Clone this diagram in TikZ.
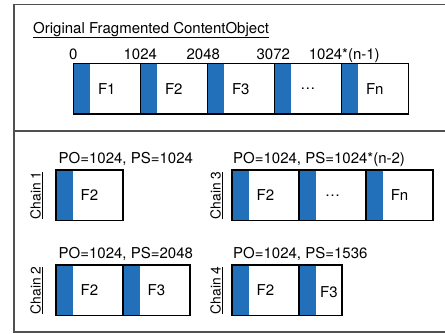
\documentclass[tikz,border=0pt]{standalone}
\usepackage{fontspec}
\setmainfont{TeX Gyre Heros}
\usepackage{xcolor}
\usetikzlibrary{positioning}
\definecolor{hdrblue}{RGB}{35,112,186}
\definecolor{framegray}{RGB}{80,80,80}

\tikzset{
  hdr/.style={fill=hdrblue, draw=hdrblue!60!black, line width=0.5pt, minimum width=17pt, minimum height=50.6pt, inner sep=0pt, outer sep=0pt},
  cell/.style={fill=white, minimum width=#1, minimum height=50.6pt, inner sep=0pt, outer sep=0pt},
  cell/.default=50pt,
  outline/.style={draw=black, line width=1.4pt},
  frame/.style={draw=framegray, line width=1.2pt},
  txt/.style={inner sep=1pt},
  chainlbl/.style={inner sep=1pt, rotate=90, anchor=south, font=\fontsize{13.8}{16}\selectfont}
}

\begin{document}
\begin{tikzpicture}[x=1pt, y=-1pt, font=\fontsize{15}{18}\selectfont]
\useasboundingbox (0,0) rectangle (445,333);
% Frame
\draw[frame] (14,4.5) rectangle (452,332);
\draw[frame] (14,131) -- (452,131);

% Original object
\node[txt, anchor=base west] (title) at (32,33) {\underline{Original Fragmented ContentObject}};
\foreach \i/\t in {1/F1,2/F2,3/F3,4/\dots,5/Fn} {
  \node[hdr] (oh\i) at ({81.8+67*(\i-1)}, 88.75) {};
  \node[cell, right=0pt of oh\i, label={[txt, xshift=-8.5pt]center:\t}] (oc\i) {};
  \draw[outline] (oh\i.north west) -- (oh\i.south west);
}
\draw[outline] (oh1.north west) rectangle (oc5.south east);
\foreach \i/\t/\s in {1/0/0,2/1024/0,3/2048/-4,4/3072/-1,5/1024*(n-1)/3}
  \node[txt, anchor=base] (on\i) at ([xshift=\s pt, yshift=3.5pt]oh\i.north west) {\t};

% Chain 1
\node[hdr] (ah1) at (64.5,195.35) {};
\node[cell, right=0pt of ah1, label={[txt, xshift=-8.5pt]center:F2}] (ac1) {};
\draw[outline] (ah1.north west) rectangle (ac1.south east);
\node[txt, anchor=base west] (apo) at ([xshift=1.5pt, yshift=7pt]ah1.north west) {PO=1024, PS=1024};
\node[chainlbl] (aname) at ([xshift=-12pt]ah1.west) {\underline{Chain 1}};

% Chain 2
\foreach \i/\t in {1/F2,2/F3} {
  \node[hdr] (bh\i) at ({64.5+67*(\i-1)}, 290.35) {};
  \node[cell, right=0pt of bh\i, label={[txt, xshift=-8.5pt]center:\t}] (bc\i) {};
  \draw[outline] (bh\i.north west) -- (bh\i.south west);
}
\draw[outline] (bh1.north west) rectangle (bc2.south east);
\node[txt, anchor=base west] (bpo) at ([xshift=1.5pt, yshift=7pt]bh1.north west) {PO=1024, PS=2048};
\node[chainlbl] (bname) at ([xshift=-12pt]bh1.west) {\underline{Chain 2}};

% Chain 3
\foreach \i/\t in {1/F2,2/\dots,3/Fn} {
  \node[hdr] (ch\i) at ({240.5+67*(\i-1)}, 195.35) {};
  \node[cell, right=0pt of ch\i, label={[txt, xshift=-8.5pt]center:\t}] (cc\i) {};
  \draw[outline] (ch\i.north west) -- (ch\i.south west);
}
\draw[outline] (ch1.north west) rectangle (cc3.south east);
\node[txt, anchor=base west] (cpo) at ([yshift=7pt]ch1.north west) {PO=1024, PS=1024*(n-2)};
\node[chainlbl] (cname) at ([xshift=-8pt]ch1.west) {\underline{Chain 3}};

% Chain 4
\node[hdr] (dh1) at (240.5,290.35) {};
\node[cell, right=0pt of dh1, label={[txt, xshift=-8.5pt]center:F2}] (dc1) {};
\node[hdr] (dh2) at (307.5,290.35) {};
\node[cell=26pt, right=0pt of dh2, label={[txt, yshift=-2pt]center:F3}] (dc2) {};
\draw[outline] (dh2.north west) -- (dh2.south west);
\draw[outline] (dh1.north west) rectangle (dc2.south east);
\node[txt, anchor=base west] (dpo) at ([yshift=7pt]dh1.north west) {PO=1024, PS=1536};
\node[chainlbl] (dname) at ([xshift=-8pt]dh1.west) {\underline{Chain 4}};
\end{tikzpicture}
\end{document}
